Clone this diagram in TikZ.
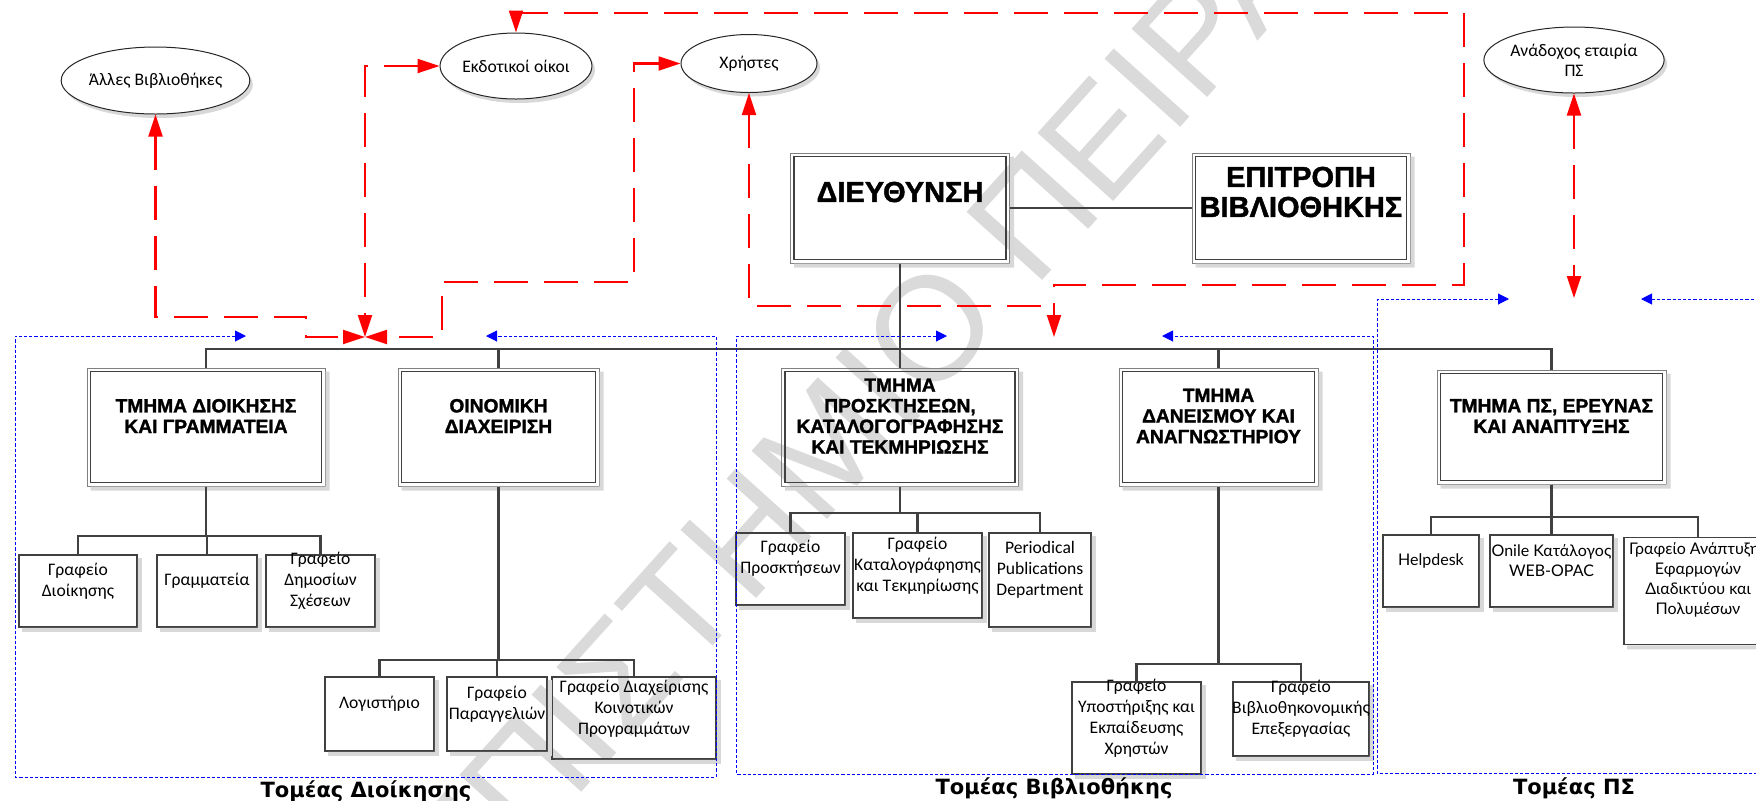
\documentclass[tikz,border=0pt]{standalone}
\usepackage{fontspec}
\setmainfont{Carlito}
\newfontfamily\headfont[FakeBold=1.5]{Liberation Sans Bold}
\newfontfamily\sectorfont{DejaVu Sans}
\newfontfamily\itfont{Lato}
\newfontfamily\wmfont{Liberation Sans}
\usetikzlibrary{shapes.geometric,arrows.meta,shadows}

\definecolor{wmgray}{HTML}{DADADA}
\definecolor{linegray}{HTML}{404040}
\definecolor{framegray}{HTML}{808080}
\definecolor{shadegray}{HTML}{D8D8D8}
\definecolor{relred}{HTML}{FF0000}
\definecolor{zoneblue}{HTML}{0000FF}

\tikzset{
  watermark/.style={rotate=48, text=wmgray, inner sep=0pt,
    font=\wmfont\fontsize{74}{74}\selectfont},
  dbox/.style={rectangle, draw=framegray, line width=0.5pt, inner sep=0pt},
  sbox/.style={rectangle, draw=linegray, line width=0.8pt, inner sep=0pt},
  oval/.style={ellipse, draw=black!85, line width=0.5pt, inner sep=0pt, align=center,
    fill=white, drop shadow={shadow xshift=1.5pt, shadow yshift=-2pt, fill=shadegray, opacity=1},
    font=\fontsize{8.8}{10}\selectfont},
  bighd/.style={font=\headfont\fontsize{14.5}{15}\selectfont, align=center, inner sep=0pt},
  hd/.style={font=\headfont\fontsize{9.6}{10.3}\selectfont, align=center, inner sep=0pt},
  lbl/.style={font=\fontsize{8.8}{10.5}\selectfont, align=center, inner sep=0pt},
  itlbl/.style={font=\itfont\fontsize{8}{10}\selectfont, align=center, inner sep=0pt},
  sector/.style={font=\sectorfont\bfseries\fontsize{10.5}{12}\selectfont, anchor=base, inner sep=0pt},
  org/.style={draw=linegray, line width=1.2pt},
  rel/.style={draw=relred, line width=1.1pt, dash pattern=on 17pt off 8pt,
    {Triangle[length=11pt,width=7pt]}-{Triangle[length=11pt,width=7pt]}},
  relstart/.style={draw=relred, line width=1.1pt, dash pattern=on 17pt off 8pt,
    {Triangle[length=11pt,width=7pt]}-},
  zone/.style={draw=zoneblue, line width=0.5pt, dash pattern=on 1.6pt off 1pt,
    {Triangle[length=5.5pt,width=5.5pt]}-{Triangle[length=5.5pt,width=5.5pt]}},
}

\begin{document}
\begin{tikzpicture}[x=0.5pt,y=-0.5pt]
\useasboundingbox (0,0) rectangle (1756,800);

% background lettering
\node[watermark] (wm) at (797,477) {ΠΑΝΕΠΙΣΤΗΜΙΟ ΠΕΙΡΑΙΑ};

% external partners
\node[oval, minimum width=86.5pt, minimum height=33.5pt] (oth) at (155.5,80.5) {Άλλες Βιβλιοθήκες};
\node[oval, minimum width=73pt, minimum height=33pt] (pub) at (516,66) {Εκδοτικοί οίκοι};
\node[oval, minimum width=68pt, minimum height=29pt] (usr) at (749,63.5) {Χρήστες};
\node[oval, minimum width=81.5pt, minimum height=33pt] (ana) at (1574,60) {Ανάδοχος εταιρία\\ΠΣ};

% management
\node[dbox, minimum width=109.5pt, minimum height=55pt] (dir) at (900,208) {};
\node[dbox, minimum width=109pt, minimum height=55pt] (com) at (1301,208) {};

% departments
\node[dbox, minimum width=119pt, minimum height=59pt] (d1) at (206,427) {};
\node[dbox, minimum width=100.5pt, minimum height=59pt] (d2) at (498.5,427) {};
\node[dbox, minimum width=118.5pt, minimum height=59pt] (d3) at (900,427) {};
\node[dbox, minimum width=99.5pt, minimum height=59pt] (d4) at (1218.5,427) {};
\node[dbox, minimum width=114.5pt, minimum height=57pt] (d5) at (1551.5,427) {};

% offices
\node[sbox, minimum width=59pt, minimum height=36pt] (s11) at (78,591) {};
\node[sbox, minimum width=50pt, minimum height=36pt] (s12) at (207,591) {};
\node[sbox, minimum width=54.5pt, minimum height=36pt] (s13) at (320.5,591) {};
\node[sbox, minimum width=54.5pt, minimum height=37pt] (s21) at (379.5,714) {};
\node[sbox, minimum width=50pt, minimum height=37pt] (s22) at (497,714) {};
\node[sbox, minimum width=82pt, minimum height=41pt] (s23) at (634,718) {};
\node[sbox, minimum width=54.5pt, minimum height=36pt] (s31) at (790.5,569) {};
\node[sbox, minimum width=64.5pt, minimum height=42.5pt] (s32) at (917.5,575.5) {};
\node[sbox, minimum width=51pt, minimum height=47pt] (s33) at (1040,580) {};
\node[sbox, minimum width=64.5pt, minimum height=46pt] (s41) at (1136.5,728) {};
\node[sbox, minimum width=68pt, minimum height=37pt] (s42) at (1301,719) {};
\node[sbox, minimum width=48pt, minimum height=36pt] (s51) at (1431,571) {};
\node[sbox, minimum width=61.5pt, minimum height=36pt] (s52) at (1551.5,571) {};
\node[sbox, minimum width=74pt, minimum height=53.5pt] (s53) at (1698,591) {};

% inner frame of the double-bordered boxes
\foreach \n in {dir,com,d1,d2,d3,d4,d5}
  \draw[linegray, line width=0.8pt] ([shift={(2pt,-2pt)}]\n.north west) rectangle ([shift={(-2pt,2pt)}]\n.south east);

% offset shadows along the right and bottom sides
\foreach \n in {dir,com,d1,d2,d3,d4,d5,s11,s12,s13,s21,s22,s23,s31,s32,s33,s41,s42,s51,s52,s53}
  \fill[shadegray] ([xshift=2pt]\n.south west) -- ([shift={(2pt,-2pt)}]\n.south west)
    -- ([shift={(2pt,-2pt)}]\n.south east) -- ([shift={(2pt,-2pt)}]\n.north east)
    -- ([yshift=-2pt]\n.north east) -- (\n.south east) -- cycle;

% box captions
\node[bighd] (tdir) at ([yshift=8pt]dir.center) {ΔΙΕΥΘΥΝΣΗ};
\node[bighd] (tcom) at ([yshift=8pt]com.center) {ΕΠΙΤΡΟΠΗ\\ΒΙΒΛΙΟΘΗΚΗΣ};
\node[hd] (td1) at ([yshift=5.5pt]d1.center) {ΤΜΗΜΑ ΔΙΟΙΚΗΣΗΣ\\ΚΑΙ ΓΡΑΜΜΑΤΕΙΑ};
\node[hd] (td2) at ([yshift=5.5pt]d2.center) {ΟΙΝΟΜΙΚΗ\\ΔΙΑΧΕΙΡΙΣΗ};
\node[hd] (td3) at ([yshift=5.5pt]d3.center) {ΤΜΗΜΑ\\ΠΡΟΣΚΤΗΣΕΩΝ,\\ΚΑΤΑΛΟΓΟΓΡΑΦΗΣΗΣ\\ΚΑΙ ΤΕΚΜΗΡΙΩΣΗΣ};
\node[hd] (td4) at ([yshift=5.5pt]d4.center) {ΤΜΗΜΑ\\ΔΑΝΕΙΣΜΟΥ ΚΑΙ\\ΑΝΑΓΝΩΣΤΗΡΙΟΥ};
\node[hd] (td5) at ([yshift=5.5pt]d5.center) {ΤΜΗΜΑ ΠΣ, ΕΡΕΥΝΑΣ\\ΚΑΙ ΑΝΑΠΤΥΞΗΣ};

\node[lbl] (t11) at ([yshift=5pt]s11.center) {Γραφείο\\Διοίκησης};
\node[lbl] (t12) at ([yshift=5pt]s12.center) {Γραμματεία};
\node[lbl] (t13) at ([yshift=5pt]s13.center) {Γραφείο\\Δημοσίων\\Σχέσεων};
\node[lbl] (t21) at ([yshift=5pt]s21.center) {Λογιστήριο};
\node[lbl] (t22) at ([yshift=5pt]s22.center) {Γραφείο\\Παραγγελιών};
\node[lbl] (t23) at ([yshift=4.5pt]s23.center) {Γραφείο Διαχείρισης\\Κοινοτικών\\Προγραμμάτων};
\node[lbl] (t31) at ([yshift=5.5pt]s31.center) {Γραφείο\\Προσκτήσεων};
\node[lbl] (t32) at ([yshift=5pt]s32.center) {Γραφείο\\Καταλογράφησης\\και Τεκμηρίωσης};
\node[lbl] (t33) at ([yshift=5pt]s33.center) {Periodical\\Publications\\Department};
\node[lbl] (t41) at ([yshift=5pt]s41.center) {Γραφείο\\Υποστήριξης και\\Εκπαίδευσης\\Χρηστών};
\node[lbl] (t42) at ([yshift=5pt]s42.center) {Γραφείο\\Βιβλιοθηκονομικής\\Επεξεργασίας};
\node[itlbl] (t51) at ([yshift=5pt]s51.center) {Helpdesk};
\node[itlbl] (t52) at ([yshift=5pt]s52.center) {Onile Κατάλογος\\WEB-OPAC};
\node[itlbl] (t53) at ([yshift=5.5pt]s53.center) {Γραφείο Ανάπτυξης\\Εφαρμογών\\Διαδικτύου και\\Πολυμέσων};

% sector captions
\node[sector] (secA) at (366,797) {Τομέας Διοίκησης};
\node[sector] (secB) at (1054,794) {Τομέας Βιβλιοθήκης};
\node[sector] (secC) at (1574,794) {Τομέας ΠΣ};

% reporting lines
\coordinate (bar) at (0,349);
\coordinate (b1) at (0,536);
\coordinate (b2) at (0,660);
\coordinate (b3) at (0,513);
\coordinate (b4) at (0,664);
\coordinate (b5) at (0,517);
\draw[org, line width=1pt] (dir.east) -- (com.west);
\foreach \d in {d1,d2,d3,d4,d5}
  \draw[org] (dir.south) |- (\d.north |- bar) -- (\d.north);
\foreach \s in {s11,s12,s13}
  \draw[org] (d1.south) |- (\s.north |- b1) -- (\s.north);
\foreach \s in {s21,s22,s23}
  \draw[org] (d2.south) |- (\s.north |- b2) -- (\s.north);
\foreach \s in {s31,s32,s33}
  \draw[org] (d3.south) |- (\s.north |- b3) -- (\s.north);
\foreach \s in {s41,s42}
  \draw[org] (d4.south) |- (\s.north |- b4) -- (\s.north);
\foreach \s in {s51,s52,s53}
  \draw[org] (d5.south) |- (\s.north |- b5) -- (\s.north);

% sector frames
\coordinate (zA1) at (246,336);
\coordinate (zA2) at (486,336);
\coordinate (zB1) at (947,336);
\coordinate (zB2) at (1162,336);
\coordinate (zC1) at (1509,299);
\coordinate (zC2) at (1641,299);
\draw[zone] (zA1) -- (15,336) -- (15,777) -- (716,777) -- (716,336) -- (zA2);
\draw[zone] (zB1) -- (736,336) -- (736,774) -- (1373,774) -- (1373,336) -- (zB2);
\draw[zone] (zC1) -- (1377,299) -- (1377,773) -- (1790,773) -- (1790,299) -- (zC2);

% information flows
\coordinate (conv) at (365,337);
\coordinate (libin) at (1054,337);
\coordinate (psin) at (1574,298);
\draw[rel] (oth.south) |- (306,317) |- (conv);
\draw[rel] (pub.west) -| (conv);
\draw[rel] (usr.west) -| (634,282) -- (442,282) |- (conv);
\draw[rel] (pub.north) |- (1464,13) |- (1054,285) -- (libin);
\draw[relstart] (usr.south) |- (1054,306);
\draw[rel] (ana.south) -- (psin);
\end{tikzpicture}
\end{document}
